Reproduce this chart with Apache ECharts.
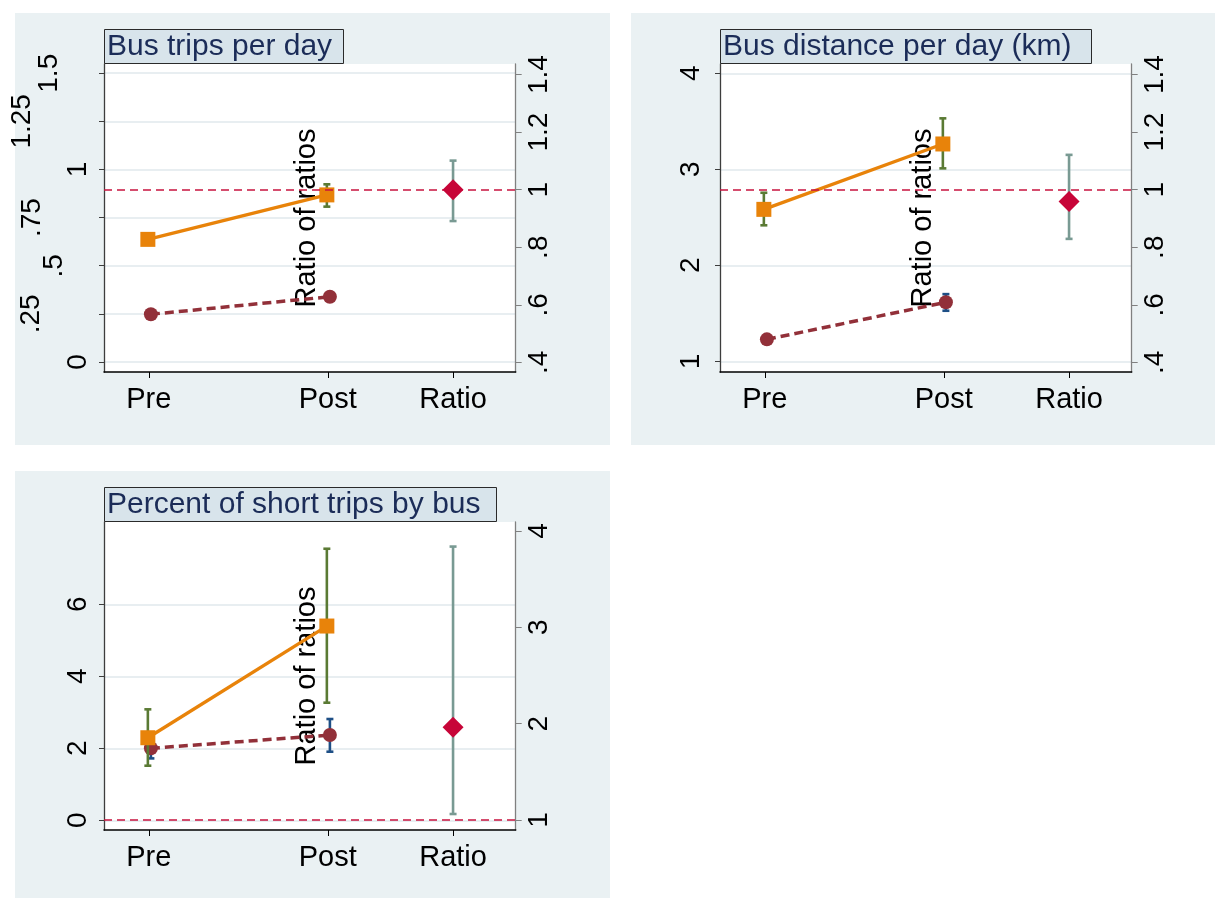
<!DOCTYPE html>
<html>
<head>
<meta charset="utf-8">
<script src="https://cdn.jsdelivr.net/npm/echarts@6/dist/echarts.min.js"></script>
<style>
  html, body { margin: 0; padding: 0; background: #ffffff; }
  #chart { width: 1215px; height: 898px; }
</style>
</head>
<body>
<div id="chart"></div>
<script>
// ---- categories along the x axis ----
const periods = ['Pre', 'Post', 'Ratio'];
const periodX = [1, 2, 2.7];
// the two groups are dodged slightly around the Pre / Post ticks
const groupAX = [0.995, 1.995];   // orange squares
const groupBX = [1.012, 2.012];   // maroon circles

// ---- panel titles ----
const panelTitles = ['Bus trips per day', 'Bus distance per day (km)', 'Percent of short trips by bus'];
const ratioAxisName = 'Ratio of ratios';

// ---- Bus trips per day ----
const tripsA = [0.637, 0.868];
const tripsALow = [0.626, 0.807];
const tripsAHigh = [0.648, 0.923];
const tripsB = [0.248, 0.339];
const tripsBLow = [0.241, 0.330];
const tripsBHigh = [0.255, 0.348];
const tripsRatio = [1.000, 0.891, 1.101];      // estimate, low, high

// ---- Bus distance per day (km) ----
const distA = [2.583, 3.264];
const distALow = [2.417, 3.010];
const distAHigh = [2.756, 3.531];
const distB = [1.229, 1.615];
const distBLow = [1.190, 1.527];
const distBHigh = [1.268, 1.700];
const distRatio = [0.959, 0.829, 1.121];

// ---- Percent of short trips by bus ----
const shortA = [2.294, 5.397];
const shortALow = [1.517, 3.267];
const shortAHigh = [3.083, 7.544];
const shortB = [2.000, 2.369];
const shortBLow = [1.720, 1.906];
const shortBHigh = [2.280, 2.814];
const shortRatio = [1.963, 1.062, 3.838];

// ---- tick values ----
const tripsTicks = [0, 0.25, 0.5, 0.75, 1, 1.25, 1.5];
const distTicks = [1, 2, 3, 4];
const shortTicks = [0, 2, 4, 6];
const ratioTicksSmall = [0.4, 0.6, 0.8, 1, 1.2, 1.4];
const ratioTicksLarge = [1, 2, 3, 4];
const ratioReference = 1;

// ---- styling ----
const FONT = '"Liberation Sans", Arial, Helvetica, sans-serif';
const FS = 29;        // x labels and axis name
const FS_TICK = 28;   // rotated y tick labels
const C_ORANGE = '#E8830A';
const C_MAROON = '#923039';
const C_GREEN = '#5A7A34';
const C_BLUE = '#1E4F86';
const C_RATIO_BAR = '#799A93';
const C_DIAMOND = '#C70538';
const C_REF = '#C8133F';
const C_PANEL = '#EAF1F3';
const C_TITLE_BG = '#D8E4EB';
const C_TITLE_TEXT = '#1B2C58';
const C_GRID = '#E8EEF1';

function stataNum(v) {
  const s = String(+Number(v).toFixed(4));
  return s.replace(/^0\./, '.').replace(/^-0\./, '-.');
}

function periodName(v) {
  let best = 0;
  periodX.forEach((p, i) => { if (Math.abs(p - v) < Math.abs(periodX[best] - v)) best = i; });
  return periods[best];
}

function pairs(xs, ys) { return xs.map((x, i) => [x, ys[i]]); }
function bars(xs, lo, hi) { return xs.map((x, i) => [x, lo[i], hi[i]]); }

function errorBar(params, api) {
  const x = api.value(0);
  const p1 = api.coord([x, api.value(1)]);
  const p2 = api.coord([x, api.value(2)]);
  const hw = 3.5;
  const style = { stroke: api.visual('color'), lineWidth: 2.6 };
  return {
    type: 'group',
    children: [
      { type: 'line', shape: { x1: p1[0], y1: p1[1], x2: p2[0], y2: p2[1] }, style },
      { type: 'line', shape: { x1: p1[0] - hw, y1: p1[1], x2: p1[0] + hw, y2: p1[1] }, style },
      { type: 'line', shape: { x1: p2[0] - hw, y1: p2[1], x2: p2[0] + hw, y2: p2[1] }, style }
    ]
  };
}

// per-panel layout and data
const panels = [
  {
    title: panelTitles[0], titleLeft: 104, titleTop: 29, titlePadRight: 12,
    grid: { left: 104, top: 64, width: 411.7, height: 308 },
    bg: [15, 13, 595, 432],
    leftRange: [-0.052, 1.548], rightRange: [0.3663, 1.4368],
    leftTicks: tripsTicks, rightTicks: ratioTicksSmall, leftMargin: 12,
    leftShift: { '.25': 47, '.5': 24, '.75': 46, '1.25': 56, '1.5': 29 },
    a: tripsA, aLow: tripsALow, aHigh: tripsAHigh,
    b: tripsB, bLow: tripsBLow, bHigh: tripsBHigh, r: tripsRatio
  },
  {
    title: panelTitles[1], titleLeft: 720, titleTop: 29, titlePadRight: 20,
    grid: { left: 720, top: 64, width: 411.7, height: 308 },
    bg: [631, 13, 584, 432],
    leftRange: [0.889, 4.097], rightRange: [0.3663, 1.4368],
    leftTicks: distTicks, rightTicks: ratioTicksSmall, leftMargin: 15,
    leftShift: {},
    a: distA, aLow: distALow, aHigh: distAHigh,
    b: distB, bLow: distBLow, bHigh: distBHigh, r: distRatio
  },
  {
    title: panelTitles[2], titleLeft: 104, titleTop: 487, titlePadRight: 16,
    grid: { left: 104, top: 522, width: 411.7, height: 308 },
    bg: [15, 471, 595, 427],
    leftRange: [-0.269, 8.287], rightRange: [0.896, 4.093],
    leftTicks: shortTicks, rightTicks: ratioTicksLarge, leftMargin: 12,
    leftShift: {},
    a: shortA, aLow: shortALow, aHigh: shortAHigh,
    b: shortB, bLow: shortBLow, bHigh: shortBHigh, r: shortRatio
  }
];

const option = {
  backgroundColor: '#ffffff',
  animation: false,
  textStyle: { fontFamily: FONT },
  graphic: panels.map(p => ({
    type: 'rect', z: -10, silent: true,
    shape: { x: p.bg[0], y: p.bg[1], width: p.bg[2], height: p.bg[3] },
    style: { fill: C_PANEL }
  })),
  title: panels.map(p => ({
    text: p.title, left: p.titleLeft, top: p.titleTop,
    padding: [3, p.titlePadRight, 2, 3],
    backgroundColor: C_TITLE_BG, borderColor: '#2a2a2a', borderWidth: 1,
    textStyle: { fontFamily: FONT, fontSize: 30, fontWeight: 'normal', color: C_TITLE_TEXT, lineHeight: 30 }
  })),
  grid: panels.map(p => Object.assign({
    show: true, backgroundColor: '#ffffff', borderWidth: 0, containLabel: false, outerBoundsMode: 'none'
  }, p.grid)),
  xAxis: panels.map((p, i) => ({
    type: 'value', gridIndex: i, min: 0.75, max: 3.05,
    axisLine: { show: true, onZero: false, lineStyle: { color: '#000', width: 1.5 } },
    axisTick: { show: true, customValues: periodX, length: 6, lineStyle: { color: '#000', width: 1 } },
    axisLabel: {
      customValues: periodX, formatter: v => periodName(v), showMinLabel: true, showMaxLabel: true,
      fontFamily: FONT, fontSize: FS, color: '#000', margin: 13
    },
    splitLine: { show: false }
  })),
  yAxis: [],
  series: []
};

panels.forEach((p, i) => {
  const rich = {};
  p.leftTicks.forEach(v => {
    const sh = p.leftShift[stataNum(v)] || 0;
    rich['s' + sh] = { padding: [0, 0, sh, 0], fontFamily: FONT, fontSize: FS_TICK, color: '#000' };
  });
  option.yAxis.push({
    type: 'value', gridIndex: i, position: 'left', min: p.leftRange[0], max: p.leftRange[1],
    axisLine: { show: true, onZero: false, lineStyle: { color: '#3d3d3d', width: 1.3 } },
    axisTick: { show: true, customValues: p.leftTicks, length: 5, lineStyle: { color: '#3d3d3d', width: 1 } },
    axisLabel: {
      customValues: p.leftTicks, rotate: 90, margin: p.leftMargin,
      showMinLabel: true, showMaxLabel: true, hideOverlap: false,
      fontFamily: FONT, fontSize: FS_TICK, color: '#000',
      formatter: v => { const t = stataNum(v); return '{s' + (p.leftShift[t] || 0) + '|' + t + '}'; },
      rich
    },
    splitLine: { show: true, lineStyle: { color: C_GRID, width: 2 } }
  });
  option.yAxis.push({
    type: 'value', gridIndex: i, position: 'right', min: p.rightRange[0], max: p.rightRange[1],
    name: ratioAxisName, nameLocation: 'middle', nameRotate: 90, nameGap: -223,
    nameTextStyle: { fontFamily: FONT, fontSize: FS, color: '#000' },
    axisLine: { show: true, onZero: false, lineStyle: { color: '#808080', width: 1.3 } },
    axisTick: { show: true, customValues: p.rightTicks, length: 6, lineStyle: { color: '#808080', width: 1 } },
    axisLabel: {
      customValues: p.rightTicks, rotate: 90, margin: 10,
      showMinLabel: true, showMaxLabel: true,
      fontFamily: FONT, fontSize: FS_TICK, color: '#000', formatter: v => stataNum(v)
    },
    splitLine: { show: false }
  });

  const xi = i, yl = 2 * i, yr = 2 * i + 1;
  option.series.push(
    {
      type: 'custom', name: 'B interval', xAxisIndex: xi, yAxisIndex: yl, z: 1,
      itemStyle: { color: C_BLUE }, renderItem: errorBar,
      encode: { x: 0, y: [1, 2] }, data: bars(groupBX, p.bLow, p.bHigh)
    },
    {
      type: 'line', name: 'B', xAxisIndex: xi, yAxisIndex: yl, z: 2,
      symbol: 'circle', symbolSize: 14, itemStyle: { color: C_MAROON },
      lineStyle: { color: C_MAROON, width: 3.5, type: [9, 5] },
      data: pairs(groupBX, p.b)
    },
    {
      type: 'custom', name: 'A interval', xAxisIndex: xi, yAxisIndex: yl, z: 3,
      itemStyle: { color: C_GREEN }, renderItem: errorBar,
      encode: { x: 0, y: [1, 2] }, data: bars(groupAX, p.aLow, p.aHigh)
    },
    {
      type: 'line', name: 'A', xAxisIndex: xi, yAxisIndex: yl, z: 4,
      symbol: 'rect', symbolSize: 15, itemStyle: { color: C_ORANGE },
      lineStyle: { color: C_ORANGE, width: 3.3 },
      data: pairs(groupAX, p.a)
    },
    {
      type: 'custom', name: 'Ratio interval', xAxisIndex: xi, yAxisIndex: yr, z: 5,
      itemStyle: { color: C_RATIO_BAR }, renderItem: errorBar,
      encode: { x: 0, y: [1, 2] }, data: [[periodX[2], p.r[1], p.r[2]]]
    },
    {
      type: 'scatter', name: 'Ratio', xAxisIndex: xi, yAxisIndex: yr, z: 6,
      symbol: 'diamond', symbolSize: 21, itemStyle: { color: C_DIAMOND, opacity: 1 },
      data: [[periodX[2], p.r[0]]],
      markLine: {
        silent: true, symbol: 'none', label: { show: false },
        lineStyle: { color: C_REF, width: 1.5, type: [8, 5] },
        data: [{ yAxis: ratioReference }]
      }
    }
  );
});

const chart = echarts.init(document.getElementById('chart'), null, { renderer: 'canvas' });
chart.setOption(option);
</script>
</body>
</html>
